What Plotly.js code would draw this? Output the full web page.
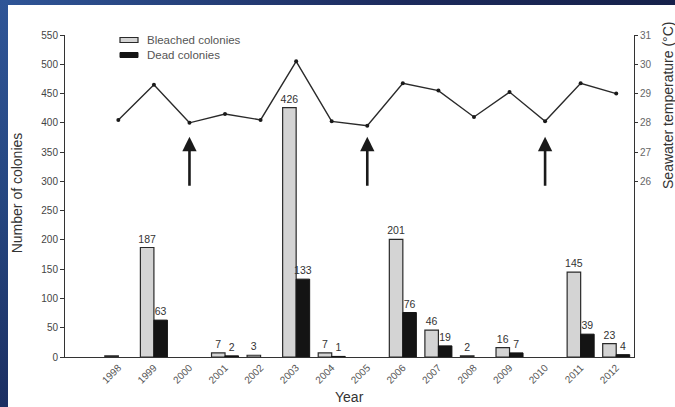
<!DOCTYPE html>
<html>
<head>
<meta charset="utf-8">
<script src="https://cdn.plot.ly/plotly-3.0.1.min.js"></script>
<style>
  html, body { margin: 0; padding: 0; background: #ffffff; }
  #wrap { position: relative; width: 675px; height: 407px; overflow: hidden; background: #ffffff; }
  #chart { position: absolute; left: 0; top: 0; width: 675px; height: 407px; }
  #topStrip { position: absolute; left: 0; top: 0; width: 675px; height: 5px; background: linear-gradient(to right, #2f5597, #1c2a5c 60%, #16214a); z-index: 5; }
  #leftStrip { position: absolute; left: 0; top: 0; width: 8px; height: 407px; background: linear-gradient(to bottom, #2f5597, #254680 50%, #1c2f62); z-index: 5; }
</style>
</head>
<body>
<div id="wrap">
  <div id="chart"></div>
  <div id="topStrip"></div>
  <div id="leftStrip"></div>
</div>
<script>
// ---- data ----
const years = [1998, 1999, 2000, 2001, 2002, 2003, 2004, 2005, 2006, 2007, 2008, 2009, 2010, 2011, 2012];
const bleached = [2, 187, null, 7, 3, 426, 7, null, 201, 46, 2, 16, null, 145, 23];
const bleachedLabels = ['', '187', '', '7', '3', '426', '7', '', '201', '46', '2', '16', '', '145', '23'];
const dead = [null, 63, null, 2, null, 133, 1, null, 76, 19, null, 7, null, 39, 4];
const deadLabels = ['', '63', '', '2', '', '133', '1', '', '76', '19', '', '7', '', '39', '4'];
const seawaterTemp = [28.1, 29.3, 28.0, 28.3, 28.1, 30.1, 28.05, 27.9, 29.35, 29.1, 28.2, 29.05, 28.05, 29.35, 29.0];
const arrowYears = [2000, 2005, 2010];
const leftTicks = [0, 50, 100, 150, 200, 250, 300, 350, 400, 450, 500, 550];
const rightTicks = [26, 27, 28, 29, 30, 31];
const legendNames = ['Bleached colonies', 'Dead colonies'];

const FONT = 'Liberation Sans, Arial, sans-serif';
const BLEACH_FILL = '#d4d4d4', BLEACH_LINE = '#2a2a2a', DEAD_FILL = '#141414';

const traces = [
  {
    type: 'bar', name: legendNames[0], x: years, y: bleached,
    text: bleachedLabels, textposition: 'outside', cliponaxis: false, constraintext: 'none',
    textfont: { family: FONT, size: 10.5, color: '#333' },
    marker: { color: BLEACH_FILL, line: { color: BLEACH_LINE, width: 1.2 } },
    showlegend: false
  },
  {
    type: 'bar', name: legendNames[1], x: years, y: dead,
    text: deadLabels, textposition: 'outside', cliponaxis: false, constraintext: 'none',
    textfont: { family: FONT, size: 10.5, color: '#333' },
    marker: { color: DEAD_FILL, line: { color: DEAD_FILL, width: 1 } },
    showlegend: false
  },
  {
    type: 'scatter', mode: 'lines+markers', name: 'Seawater temperature',
    x: years, y: seawaterTemp, yaxis: 'y2', showlegend: false,
    line: { color: '#2a2a2a', width: 1.4 },
    marker: { color: '#1a1a1a', size: 4 }
  }
];

const annotations = arrowYears.map(function (yr) {
  return {
    x: yr, y: 376, xref: 'x', yref: 'y',
    ax: yr, ay: 290, axref: 'x', ayref: 'y',
    text: '', showarrow: true, arrowhead: 2, arrowsize: 1.1, arrowwidth: 2.6, arrowcolor: '#1a1a1a'
  };
});
// legend text (custom legend to match the flat swatches of the reference)
const legendTextX = (145 - 65) / 569;
const legendRowY = [(357 - 40) / 322, (357 - 55) / 322];
legendNames.forEach(function (nm, i) {
  annotations.push({ text: nm, xref: 'paper', yref: 'paper', x: legendTextX, y: legendRowY[i],
    xanchor: 'left', yanchor: 'middle', showarrow: false,
    font: { family: FONT, size: 11.5, color: '#555' } });
});
annotations.push(
  { text: 'Number of colonies', xref: 'paper', yref: 'paper', x: -0.084, y: 0.509,
    xanchor: 'center', yanchor: 'middle', textangle: -90, showarrow: false,
    font: { family: FONT, size: 14, color: '#333' } },
  { text: 'Seawater temperature (°C)', xref: 'paper', yref: 'paper', x: 1.06, y: 0.78,
    xanchor: 'center', yanchor: 'middle', textangle: -90, showarrow: false,
    font: { family: FONT, size: 14, color: '#333' } },
  { text: 'Year', xref: 'paper', yref: 'paper', x: 0.5, y: -0.124,
    xanchor: 'center', yanchor: 'middle', showarrow: false,
    font: { family: FONT, size: 14, color: '#333' } }
);

const swX0 = (120 - 65) / 569, swX1 = (138 - 65) / 569;
const shapes = [
  { type: 'rect', xref: 'paper', yref: 'paper', x0: swX0, x1: swX1,
    y0: legendRowY[0] - 2.5 / 322, y1: legendRowY[0] + 2.5 / 322,
    fillcolor: BLEACH_FILL, line: { color: BLEACH_LINE, width: 1.2 } },
  { type: 'rect', xref: 'paper', yref: 'paper', x0: swX0, x1: swX1,
    y0: legendRowY[1] - 2.5 / 322, y1: legendRowY[1] + 2.5 / 322,
    fillcolor: DEAD_FILL, line: { color: DEAD_FILL, width: 1 } }
];

const layout = {
  width: 675, height: 407,
  margin: { l: 65, r: 41, t: 35, b: 50, pad: 0 },
  paper_bgcolor: 'rgba(0,0,0,0)', plot_bgcolor: 'rgba(0,0,0,0)',
  font: { family: FONT, size: 10, color: '#444' },
  barmode: 'group', bargap: 0.24, bargroupgap: 0,
  showlegend: false,
  xaxis: {
    range: [1996.5, 2012.5], tickmode: 'array', tickvals: years, ticktext: years.map(String),
    tickangle: -45, ticks: '', showgrid: false, zeroline: false,
    showline: true, linecolor: '#333', linewidth: 1,
    tickfont: { family: FONT, size: 10, color: '#555' }
  },
  yaxis: {
    range: [0, 550], tickmode: 'array', tickvals: leftTicks,
    ticks: 'outside', ticklen: 4, tickcolor: '#333', showgrid: false, zeroline: false,
    showline: true, linecolor: '#333', linewidth: 1,
    tickfont: { family: FONT, size: 10, color: '#444' }
  },
  yaxis2: {
    overlaying: 'y', side: 'right', range: [20, 31], tickmode: 'array', tickvals: rightTicks,
    ticks: 'outside', ticklen: 3, tickcolor: '#333', showgrid: false, zeroline: false,
    showline: true, linecolor: '#333', linewidth: 1,
    tickfont: { family: FONT, size: 10, color: '#666' }
  },
  shapes: shapes,
  annotations: annotations
};

Plotly.newPlot('chart', traces, layout, { displayModeBar: false, staticPlot: true });
</script>
</body>
</html>
